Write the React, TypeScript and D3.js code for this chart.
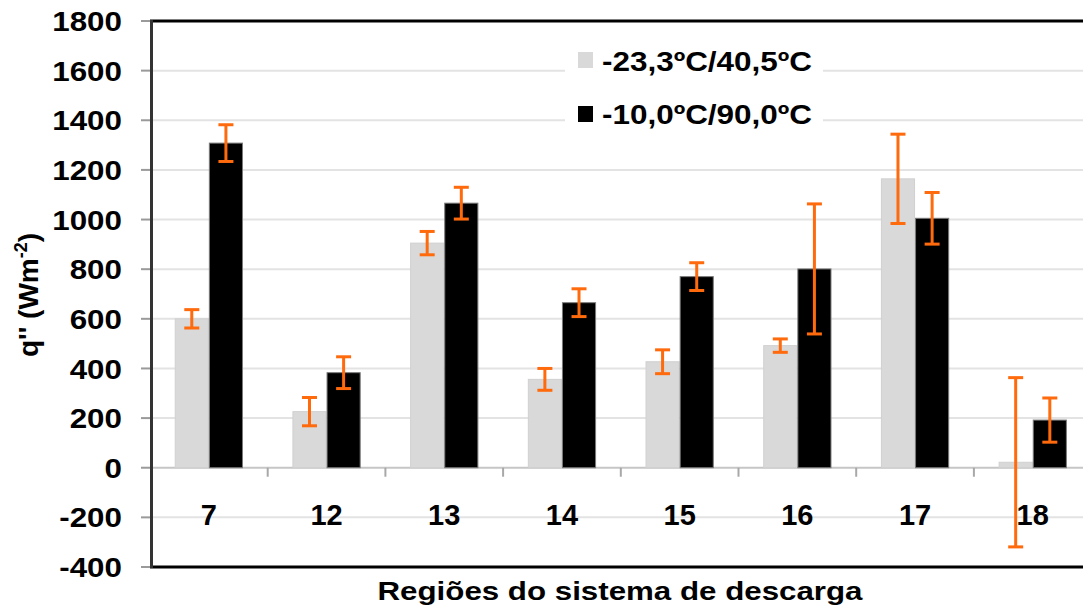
import React from "react";
import * as d3 from "d3";

const categories = ["7", "12", "13", "14", "15", "16", "17", "18"];
const seriesNames = ["-23,3ºC/40,5ºC", "-10,0ºC/90,0ºC"];
const lowValues = [600, 226, 905, 356, 427, 492, 1164, 22];
const lowErrors = [37, 57, 47, 44, 48, 27, 180, 341];
const highValues = [1308, 383, 1066, 665, 770, 801, 1005, 192];
const highErrors = [74, 64, 64, 56, 56, 262, 104, 89];
const yTicks = [-400, -200, 0, 200, 400, 600, 800, 1000, 1200, 1400, 1600, 1800];

const W = 1083;
const H = 608;
const left = 150;
const top = 21;
const bottom = 567;
const step = 117.7;

const FONT = "Liberation Sans, Arial, sans-serif";
const colors = ["#d9d9d9", "#000000"];
const strokes = ["#d0d0d0", "#7a7a7a"];

export default function App() {
  const y = d3.scaleLinear().domain([-400, 1800]).range([bottom, top]);
  const x = d3
    .scaleBand<string>()
    .domain(categories)
    .range([left, left + step * categories.length])
    .paddingInner(0.42)
    .paddingOuter(0.21);
  const xs = d3
    .scaleBand<string>()
    .domain(["0", "1"])
    .range([0, x.bandwidth()])
    .padding(0);

  const series = [
    { values: lowValues, errors: lowErrors },
    { values: highValues, errors: highErrors },
  ];

  return (
    <svg
      width={W}
      height={H}
      style={{ position: "absolute", left: 0, top: 0, background: "#fff" }}
      fontFamily={FONT}
    >
      {/* gridlines */}
      {yTicks.map((t) =>
        t === 0 ? null : (
          <line
            key={"g" + t}
            x1={left}
            x2={W}
            y1={y(t)}
            y2={y(t)}
            stroke="#e3e3e3"
            strokeWidth={2}
          />
        )
      )}
      {/* legend background */}
      <rect x={565} y={36} width={258} height={102} fill="#fff" />
      {/* zero line */}
      <line x1={left} x2={W} y1={y(0)} y2={y(0)} stroke="#c6c6c6" strokeWidth={2} />
      {/* category separators */}
      {categories.map((c, i) => (
        <line
          key={"s" + c}
          x1={left + step * (i + 1)}
          x2={left + step * (i + 1)}
          y1={y(0)}
          y2={y(0) + 9}
          stroke="#a8a8a8"
          strokeWidth={2}
        />
      ))}
      {/* bars */}
      {series.map((s, si) =>
        categories.map((c, i) => {
          const v = s.values[i];
          const bx = (x(c) ?? 0) + (xs(String(si)) ?? 0);
          const y0 = y(Math.max(0, v));
          const y1 = y(Math.min(0, v));
          return (
            <rect
              key={"b" + si + c}
              x={bx + 0.5}
              y={y0}
              width={xs.bandwidth() - 1}
              height={y1 - y0}
              fill={colors[si]}
              stroke={strokes[si]}
              strokeWidth={1}
            />
          );
        })
      )}
      {/* error bars */}
      {series.map((s, si) =>
        categories.map((c, i) => {
          const v = s.values[i];
          const e = s.errors[i];
          const cx = (x(c) ?? 0) + (xs(String(si)) ?? 0) + xs.bandwidth() / 2;
          const yt = y(v + e);
          const yb = y(v - e);
          const hw = 7.5;
          return (
            <g key={"e" + si + c} stroke="#ff6a0d" strokeWidth={3}>
              <line x1={cx} x2={cx} y1={yt} y2={yb} />
              <line x1={cx - hw} x2={cx + hw} y1={yt} y2={yt} />
              <line x1={cx - hw} x2={cx + hw} y1={yb} y2={yb} />
            </g>
          );
        })
      )}
      {/* frame */}
      <line x1={left} x2={W} y1={top} y2={top} stroke="#000" strokeWidth={3} />
      <line x1={left} x2={W} y1={bottom} y2={bottom} stroke="#000" strokeWidth={3} />
      <line x1={left + 1.5} x2={left + 1.5} y1={top - 1} y2={bottom + 1} stroke="#333" strokeWidth={3} />
      {/* y ticks */}
      {yTicks.map((t) => (
        <g key={"t" + t}>
          <line x1={141} x2={150} y1={y(t)} y2={y(t)} stroke="#9a9a9a" strokeWidth={2} />
          <text
            transform={`translate(122,${y(t)}) scale(1.12,1)`}
            dy="0.36em"
            textAnchor="end"
            fontSize={28}
            fontWeight="bold"
            fill="#000"
          >
            {t}
          </text>
        </g>
      ))}
      {/* x labels */}
      {categories.map((c) => (
        <text
          key={"x" + c}
          x={(x(c) ?? 0) + x.bandwidth() / 2}
          y={525}
          textAnchor="middle"
          fontSize={29}
          fontWeight="bold"
          fill="#000"
        >
          {c}
        </text>
      ))}
      {/* legend */}
      {seriesNames.map((n, i) => (
        <g key={"l" + i}>
          <rect x={578} y={52 + i * 54} width={15} height={16} fill={colors[i]} />
          <text
            x={602}
            y={70.5 + i * 53}
            fontSize={27}
            fontWeight="bold"
            textLength={210}
            lengthAdjust="spacingAndGlyphs"
            fill="#000"
          >
            {n}
          </text>
        </g>
      ))}
      {/* axis titles */}
      <text
        x={620}
        y={600}
        textAnchor="middle"
        fontSize={26}
        fontWeight="bold"
        textLength={485}
        lengthAdjust="spacingAndGlyphs"
        fill="#000"
      >
        Regiões do sistema de descarga
      </text>
      <text
        transform="translate(38,295) rotate(-90)"
        textAnchor="middle"
        fontSize={28}
        fontWeight="bold"
        fill="#000"
      >
        q'' (Wm
        <tspan dy={-11} fontSize={18}>-2</tspan>
        <tspan dy={11}>)</tspan>
      </text>
    </svg>
  );
}
